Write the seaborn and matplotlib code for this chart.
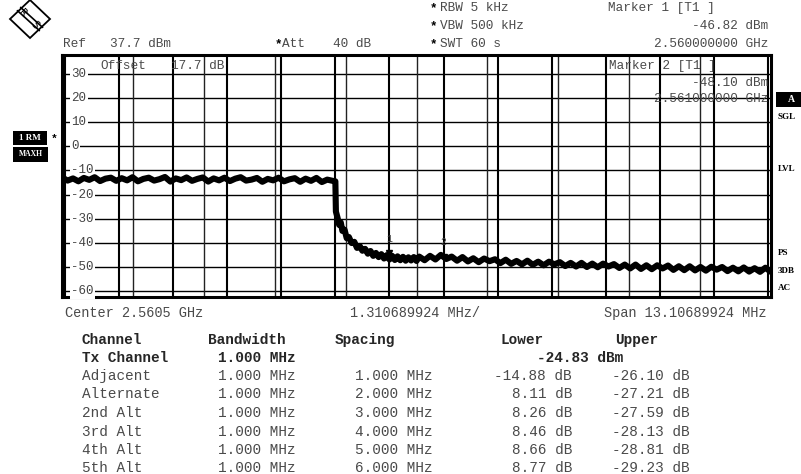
import numpy as np
import pandas as pd
import matplotlib
matplotlib.use("Agg")
import matplotlib.pyplot as plt
import seaborn as sns
from matplotlib.patches import Polygon, Rectangle
from matplotlib.lines import Line2D
import matplotlib.transforms as mtransforms

# ---------------- data ----------------
center_ghz = 2.5605
span_mhz = 13.10689924
ref_level = 37.7
y_ticks = [30, 20, 10, 0, -10, -20, -30, -40, -50, -60]

# trace: frequency offset from centre (MHz) and level (dBm)
flat_freq = [-6.55, -6.45, -6.35, -6.25, -6.15, -6.05, -5.95, -5.85, -5.75, -5.65,
             -5.55, -5.45, -5.35, -5.25, -5.15, -5.05, -4.95, -4.85, -4.75, -4.65,
             -4.55, -4.45, -4.35, -4.25, -4.15, -4.05, -3.95, -3.85, -3.75, -3.65,
             -3.55, -3.45, -3.35, -3.25, -3.15, -3.05, -2.95, -2.85, -2.75, -2.65,
             -2.55, -2.45, -2.35, -2.25, -2.15, -2.05, -1.95, -1.85, -1.75, -1.65,
             -1.55]
flat_level = [-12.9, -14.2, -13.3, -14.5, -13.1, -13.9, -12.8, -14.4, -13.4, -13.0,
              -14.3, -13.2, -14.1, -12.8, -14.5, -13.5, -13.0, -14.2, -13.6, -12.7,
              -14.6, -13.3, -14.0, -12.9, -14.3, -13.5, -12.9, -14.6, -13.3, -14.1,
              -13.0, -14.4, -13.4, -12.8, -14.2, -13.8, -13.1, -14.7, -13.5, -14.1,
              -13.0, -14.5, -13.7, -13.2, -14.7, -13.4, -14.3, -13.1, -14.8, -13.8,
              -14.3]
drop_freq = [-1.50, -1.49, -1.46, -1.43, -1.40, -1.37, -1.33, -1.29, -1.25, -1.20,
             -1.15, -1.10, -1.05, -1.00, -0.95, -0.90, -0.85, -0.80, -0.75, -0.70,
             -0.65, -0.60, -0.55, -0.50, -0.45, -0.40, -0.35, -0.30, -0.25, -0.20,
             -0.15, -0.10, -0.05, 0.00]
drop_level = [-14.5, -27.0, -29.5, -32.5, -31.5, -35.0, -34.5, -38.0, -37.5, -40.0,
              -39.5, -42.0, -41.2, -43.2, -42.4, -44.4, -43.3, -45.3, -44.1, -45.8,
              -44.6, -46.4, -45.0, -46.8, -45.3, -47.0, -45.5, -47.1, -45.7, -47.3,
              -45.9, -47.2, -45.8, -47.4]
tail_freq = [0.05, 0.15, 0.25, 0.35, 0.45, 0.55, 0.65, 0.75, 0.85, 0.95,
             1.05, 1.15, 1.25, 1.35, 1.45, 1.55, 1.65, 1.75, 1.85, 1.95,
             2.05, 2.15, 2.25, 2.35, 2.45, 2.55, 2.65, 2.75, 2.85, 2.95,
             3.05, 3.15, 3.25, 3.35, 3.45, 3.55, 3.65, 3.75, 3.85, 3.95,
             4.05, 4.15, 4.25, 4.35, 4.45, 4.55, 4.65, 4.75, 4.85, 4.95,
             5.05, 5.15, 5.25, 5.35, 5.45, 5.55, 5.65, 5.75, 5.85, 5.95,
             6.05, 6.15, 6.25, 6.35, 6.45, 6.55]
tail_level = [-45.6, -47.1, -45.3, -46.8, -44.9, -46.6, -45.6, -47.3, -45.8, -47.6,
              -46.3, -47.9, -46.4, -47.5, -46.7, -48.3, -46.9, -48.6, -47.4, -48.8,
              -47.3, -49.0, -47.7, -49.2, -47.7, -48.8, -47.9, -49.5, -48.2, -49.7,
              -48.2, -49.9, -48.5, -50.0, -48.5, -49.7, -48.7, -50.3, -48.9, -50.5,
              -48.9, -50.7, -49.2, -50.8, -49.2, -50.5, -49.3, -51.1, -49.6, -51.2,
              -49.6, -51.3, -49.9, -51.4, -49.8, -51.0, -49.9, -51.6, -50.2, -51.7,
              -50.1, -51.8, -50.4, -51.9, -50.2, -51.9]

marker_names = ["1", "2"]
marker_freq = [-0.5, 0.5]          # MHz offset from centre
marker_level = [-46.82, -48.10]    # dBm
marker_abs = ["2.560000000 GHz", "2.561000000 GHz"]

tx_bw = "1.000 MHz"
tx_power = -24.83
channel_names = ["Adjacent", "Alternate", "2nd Alt", "3rd Alt", "4th Alt", "5th Alt"]
channel_bw = [1.000, 1.000, 1.000, 1.000, 1.000, 1.000]
channel_spacing = [1.000, 2.000, 3.000, 4.000, 5.000, 6.000]
lower_db = [-14.88, 8.11, 8.26, 8.46, 8.66, 8.77]
upper_db = [-26.10, -27.21, -27.59, -28.13, -28.81, -29.23]

# ---------------- figure ----------------
sns.set_theme(style="white")
plt.rcParams["font.family"] = ["Liberation Mono", "DejaVu Sans Mono"]

W, H = 801, 474
fig = plt.figure(figsize=(W / 100, H / 100), dpi=100)
fig.patch.set_facecolor("white")

def fx(x):
    return x / W

def fy(y):
    return 1 - y / H

L, R, T, B = 62, 771, 55, 297
ax = fig.add_axes([fx(L), fy(B), (R - L) / W, (B - T) / H])
ax.set_facecolor("white")

half = span_mhz / 2
ax.set_xlim(-half, half)
ax.set_ylim(ref_level - 100, ref_level)
ax.set_xticks([])
ax.set_yticks([])
for s in ax.spines.values():
    s.set_visible(True)
    s.set_color("black")
    s.set_linewidth(2.2)

# horizontal grid
for yv in y_ticks:
    ax.axhline(yv, color="black", lw=1.0, zorder=1)
# vertical divisions
div = span_mhz / 10
for i in range(1, 10):
    ax.axvline(-half + i * div, color="#222222", lw=1.0, zorder=1)
# channel boundaries
edges = [-0.5, 0.5]
for sp, bw in zip(channel_spacing, channel_bw):
    edges += [-(sp + bw / 2), sp + bw / 2]
for e in edges:
    ax.axvline(e, color="black", lw=1.5, zorder=1)

# y labels inside plot
trans = mtransforms.blended_transform_factory(ax.transAxes, ax.transData)
for yv in y_ticks:
    ax.text(0.013, yv, f"{yv}", transform=trans, ha="left",
            va="center", fontsize=9, color="#444444", zorder=3,
            bbox=dict(boxstyle="square,pad=0.12", fc="white", ec="none"))

# trace (max-hold noise band)
df = pd.DataFrame({"freq": flat_freq + drop_freq + tail_freq,
                   "level": flat_level + drop_level + tail_level})
sns.lineplot(data=df, x="freq", y="level", ax=ax, color="black", lw=4.4,
             estimator=None, sort=False, zorder=4)
ax.set_xlabel("")
ax.set_ylabel("")

# markers
for name, mf, ml in zip(marker_names, marker_freq, marker_level):
    ax.plot([mf], [ml + 2.5], marker="v", ms=4, color="black", zorder=5)
    ax.annotate(name, (mf, ml), xytext=(0, 11), textcoords="offset points",
                ha="center", va="bottom", fontsize=7, color="#444444", zorder=5)

# texts inside the plot
txtc = "#4a4a4a"
fs_h = 9.2
fig.text(fx(100), fy(66), "Offset", fontsize=fs_h, color=txtc, va="center")
fig.text(fx(171), fy(66), "17.7 dB", fontsize=fs_h, color=txtc, va="center")
fig.text(fx(609), fy(66), "Marker 2 [T1 ]", fontsize=fs_h, color=txtc, va="center")
fig.text(fx(768), fy(83), f"{marker_level[1]:.2f} dBm", fontsize=fs_h, color=txtc,
         va="center", ha="right")
fig.text(fx(768), fy(99), marker_abs[1], fontsize=fs_h, color=txtc, va="center", ha="right")

# header texts
fig.text(fx(63), fy(44), "Ref", fontsize=fs_h, color=txtc, va="center")
fig.text(fx(110), fy(44), f"{ref_level} dBm", fontsize=fs_h, color=txtc, va="center")
fig.text(fx(275), fy(44), "*", fontsize=9, color="black", va="center", fontweight="bold")
fig.text(fx(282), fy(44), "Att", fontsize=fs_h, color=txtc, va="center")
fig.text(fx(333), fy(44), "40 dB", fontsize=fs_h, color=txtc, va="center")
for yy, s in [(8, "RBW 5 kHz"), (26, "VBW 500 kHz"), (44, "SWT 60 s")]:
    fig.text(fx(430), fy(yy), "*", fontsize=9, color="black", va="center", fontweight="bold")
    fig.text(fx(440), fy(yy), s, fontsize=fs_h, color=txtc, va="center")
fig.text(fx(608), fy(8), "Marker 1 [T1 ]", fontsize=fs_h, color=txtc, va="center")
fig.text(fx(768), fy(26), f"{marker_level[0]:.2f} dBm", fontsize=fs_h, color=txtc,
         va="center", ha="right")
fig.text(fx(768), fy(44), marker_abs[0], fontsize=fs_h, color=txtc, va="center", ha="right")

# below plot
fs_b = 9.8
fig.text(fx(65), fy(313), f"Center {center_ghz} GHz", fontsize=fs_b, color=txtc, va="center")
fig.text(fx(350), fy(313), f"{span_mhz / 10:.9f} MHz/", fontsize=fs_b, color=txtc, va="center")
fig.text(fx(766), fy(313), f"Span {span_mhz:.8f} MHz", fontsize=fs_b, color=txtc,
         va="center", ha="right")

# left / right soft-key labels
def boxlabel(x0, y0, w, h, s, fs):
    fig.patches.append(Rectangle((fx(x0), fy(y0 + h)), w / W, h / H, transform=fig.transFigure,
                                 fc="black", ec="none"))
    fig.text(fx(x0 + w / 2), fy(y0 + h / 2), s, fontsize=fs, color="white", ha="center",
             va="center", fontweight="bold", family="Liberation Serif")

boxlabel(13, 131, 34, 14, "1 RM", 6.5)
fig.text(fx(51), fy(139), "*", fontsize=8, color="black", va="center", fontweight="bold")
boxlabel(13, 147, 35, 15, "MAXH", 5.5)
boxlabel(776, 92, 30, 15, "A", 7)
for yy, s in [(117, "SGL"), (169, "LVL"), (253, "PS"), (271, "3DB"), (288, "AC")]:
    fig.text(fx(778), fy(yy), s, fontsize=6.5, color="black", va="center",
             fontweight="bold", family="Liberation Serif")

# R&S logo
dia = Polygon([(fx(10), fy(19)), (fx(30), fy(0)), (fx(50), fy(19)), (fx(30), fy(38))],
              closed=True, fc="white", ec="black", lw=1.3, transform=fig.transFigure)
fig.patches.append(dia)
for off in (-1.6, 1.6):
    fig.lines.append(Line2D([fx(19 + off), fx(41 + off)], [fy(9 - off), fy(29 - off)],
                            color="black", lw=1.2, transform=fig.transFigure))
fig.text(fx(23), fy(13), "R", fontsize=7, color="black", ha="center", va="center",
         family="DejaVu Sans", rotation=-45)
fig.text(fx(35), fy(25), "S", fontsize=7, color="black", ha="center", va="center",
         family="DejaVu Sans", rotation=-45)

# table
fs_t = 10.4
col_name, col_bw, col_sp, col_lo, col_up = 82, 218, 355, 572, 690
row_y = [376, 394.5, 413, 431.5, 450, 468]
fig.text(fx(col_name), fy(340), "Channel", fontsize=fs_t, fontweight="bold", va="center")
fig.text(fx(208), fy(340), "Bandwidth", fontsize=fs_t, fontweight="bold", va="center")
fig.text(fx(335), fy(340), "Spacing", fontsize=fs_t, fontweight="bold", va="center")
fig.text(fx(500), fy(340), "Lower", fontsize=fs_t, fontweight="bold", va="center")
fig.text(fx(615), fy(340), "Upper", fontsize=fs_t, fontweight="bold", va="center")
fig.text(fx(col_name), fy(358), "Tx Channel", fontsize=fs_t, fontweight="bold", va="center")
fig.text(fx(col_bw), fy(358), tx_bw, fontsize=fs_t, fontweight="bold", va="center")
fig.text(fx(537), fy(358), f"{tx_power:.2f} dBm", fontsize=fs_t, fontweight="bold", va="center")
for yy, nm, bw, sp, lo, up in zip(row_y, channel_names, channel_bw, channel_spacing,
                                  lower_db, upper_db):
    fig.text(fx(col_name), fy(yy), nm, fontsize=fs_t, color=txtc, va="center")
    fig.text(fx(col_bw), fy(yy), f"{bw:.3f} MHz", fontsize=fs_t, color=txtc, va="center")
    fig.text(fx(col_sp), fy(yy), f"{sp:.3f} MHz", fontsize=fs_t, color=txtc, va="center")
    fig.text(fx(col_lo), fy(yy), f"{lo:.2f} dB", fontsize=fs_t, color=txtc, va="center", ha="right")
    fig.text(fx(col_up), fy(yy), f"{up:.2f} dB", fontsize=fs_t, color=txtc, va="center", ha="right")

fig.savefig("out.png", dpi=100, facecolor="white")
